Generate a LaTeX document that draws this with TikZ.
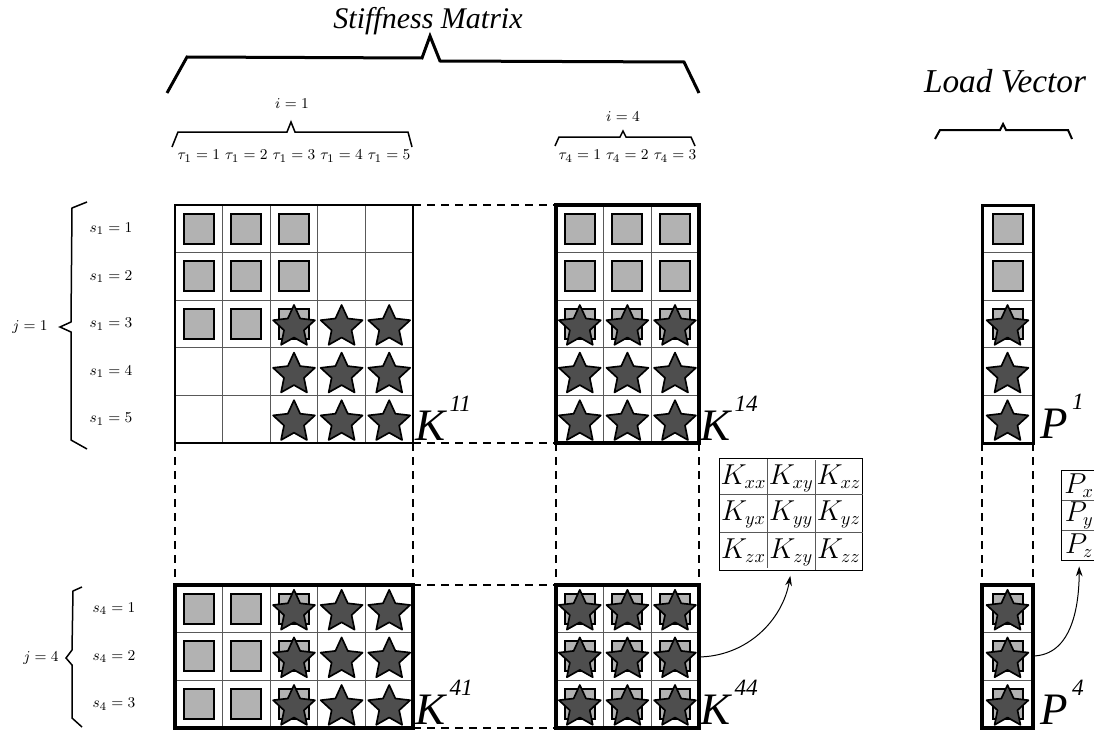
\documentclass[tikz,border=0pt]{standalone}
\usepackage{amsmath}
\usepackage{fontspec}
\usepackage{xcolor}
\usepackage{tikz}
\usetikzlibrary{arrows.meta, positioning, matrix, calc}
\newfontfamily\timesfont{Liberation Serif}
\definecolor{sqfill}{RGB}{178,178,178}
\definecolor{starfill}{RGB}{78,78,78}
\newcommand{\blocklbl}[2]{{\fontsize{27}{27}\selectfont\timesfont\itshape #1}\hspace{2.5pt}\raisebox{17pt}{\fontsize{14}{14}\selectfont\timesfont\itshape #2}}
% white block with its cell lines: x0, y0, cols, rows, cell width, cell height
\newcommand{\kblock}[6]{%
  \fill[white] (#1,#2) rectangle ({#1+#3*#5},{#2+#4*#6});
  \foreach \c in {0,...,#3} \draw[gridline] ({#1+\c*#5},#2) -- ({#1+\c*#5},{#2+#4*#6});
  \foreach \r in {0,...,#4} \draw[gridline] (#1,{#2+\r*#6}) -- ({#1+#3*#5},{#2+\r*#6});
}
% marks in the cells: x0, y0, cell width, cell height, cols, rows, pic
\newcommand{\putmarks}[7]{%
  \foreach \c in {#5}{\foreach \r in {#6}{\pic at ({#1+(\c-0.5)*#3},{#2+(\r-0.5)*#4}) {#7};}}}

\begin{document}
\begin{tikzpicture}[x=0.6pt, y=-0.6pt, >=Stealth,
  gridline/.style={black!65, line width=0.5pt},
  dashline/.style={line width=1.2pt, dash pattern=on 4.8pt off 3.6pt},
  blockrim/.style={line width=2.2pt},
  sqbox/.style={draw=black, fill=sqfill, line width=1.2pt},
  starbox/.style={draw=black, fill=starfill, line width=1pt, line join=round},
  brace/.style={line width=0.9pt},
  mlbl/.style={font=\fontsize{9.5}{11}\selectfont, inner sep=1pt},
  bigtitle/.style={font=\fontsize{18}{18}\selectfont\timesfont\itshape, inner sep=0pt, anchor=base},
  compcell/.style={minimum width=28.6pt, minimum height=21.6pt, inner sep=0pt, outer sep=0pt, font=\fontsize{16}{18}\selectfont},
  sqmark/.pic={\path[sqbox] (-15,-15) rectangle (15,15);},
  starmark/.pic={\path[starbox, shift={(0,3)}] (-90:22) -- (-54:10.5) -- (-18:22) -- (18:10.5) -- (54:22) -- (90:10.5) -- (126:22) -- (162:10.5) -- (198:22) -- (234:10.5) -- cycle;}
]
  \useasboundingbox (0,0) rectangle (1094,733);

  % titles and braces
  \node[bigtitle] (stiff) at (428,29) {Stiffness Matrix};
  \draw[line width=1.8pt] (167,93) -- (187,57) -- (422,58) -- (430,36) -- (440,61) -- (684,62) -- (699,93);
  \node[bigtitle, font=\fontsize{20}{20}\selectfont\timesfont\itshape] (load) at (1005,92) {Load Vector};
  \draw[line width=1.2pt] (935,139) -- (940,130) -- (1000,130) -- (1003,124) -- (1006,130) -- (1068,130) -- (1072,139);

  \node[mlbl] (i1) at (292,104) {$i=1$};
  \draw[brace] (172,147) -- (178,132) -- (287,132) -- (291,122) -- (295,132) -- (408,132) -- (412,147);
  \foreach \c in {1,...,5} \node[mlbl] (tauA\c) at ({175+(\c-0.5)*47.6},156) {$\tau_1=\c$};
  \node[mlbl] (i4) at (623,117) {$i=4$};
  \draw[brace] (555,146) -- (559,137) -- (620,137) -- (623,131) -- (626,137) -- (691,137) -- (695,146);
  \foreach \c in {1,2,3} \node[mlbl] (tauD\c) at ({556+(\c-0.5)*47.6},156) {$\tau_4=\c$};

  \node[mlbl] (j1) at (30,327) {$j=1$};
  \draw[brace] (87,202) -- (72,208) -- (71,322) -- (60,327) -- (71,332) -- (71,440) -- (87,449);
  \foreach \r in {1,...,5} \node[mlbl] (sA\r) at (111,{205+(\r-0.5)*47.6}) {$s_1=\r$};
  \node[mlbl] (j4) at (41,658) {$j=4$};
  \draw[brace] (82,587) -- (73,591) -- (72,650) -- (66,658) -- (72,665) -- (72,718) -- (82,727);
  \foreach \r in {1,2,3} \node[mlbl] (sD\r) at (114,{585+(\r-0.5)*47.6}) {$s_4=\r$};

  % dashed frame of the whole matrix
  \foreach \x in {175,413,556,698.8} \draw[dashline] (\x,205) -- (\x,727.8);
  \foreach \y in {205,443,585,727.8} \draw[dashline] (175,\y) -- (698.8,\y);
  \foreach \x in {982,1033} \draw[dashline] (\x,443) -- (\x,585);

  % K11
  \kblock{175}{205}{5}{5}{47.6}{47.6}
  \putmarks{175}{205}{47.6}{47.6}{1,2,3}{1,2,3}{sqmark}
  \putmarks{175}{205}{47.6}{47.6}{3,4,5}{3,4,5}{starmark}
  \draw[line width=1.2pt] (175,205) rectangle (413,443);
  % K14
  \kblock{556}{205}{3}{5}{47.6}{47.6}
  \putmarks{556}{205}{47.6}{47.6}{1,2,3}{1,2,3}{sqmark}
  \putmarks{556}{205}{47.6}{47.6}{1,2,3}{3,4,5}{starmark}
  \draw[blockrim] (556,205) rectangle (698.8,443);
  % K41
  \kblock{175}{585}{5}{3}{47.6}{47.6}
  \putmarks{175}{585}{47.6}{47.6}{1,2,3}{1,2,3}{sqmark}
  \putmarks{175}{585}{47.6}{47.6}{3,4,5}{1,2,3}{starmark}
  \draw[blockrim] (175,585) rectangle (413,727.8);
  % K44
  \kblock{556}{585}{3}{3}{47.6}{47.6}
  \putmarks{556}{585}{47.6}{47.6}{1,2,3}{1,2,3}{sqmark}
  \putmarks{556}{585}{47.6}{47.6}{1,2,3}{1,2,3}{starmark}
  \draw[blockrim] (556,585) rectangle (698.8,727.8);
  % P1 and P4
  \kblock{982}{205}{1}{5}{51}{47.6}
  \putmarks{982}{205}{51}{47.6}{1}{1,2,3}{sqmark}
  \putmarks{982}{205}{51}{47.6}{1}{3,4,5}{starmark}
  \draw[line width=1.8pt] (982,205) rectangle (1033,443);
  \kblock{982}{585}{1}{3}{51}{47.6}
  \putmarks{982}{585}{51}{47.6}{1}{1,2,3}{sqmark}
  \putmarks{982}{585}{51}{47.6}{1}{1,2,3}{starmark}
  \draw[blockrim] (982,585) rectangle (1033,727.8);

  % block names
  \node[anchor=base west, inner sep=0pt] (k11) at (415,440) {\blocklbl{K}{11}};
  \node[anchor=base west, inner sep=0pt] (k14) at (700,440) {\blocklbl{K}{14}};
  \node[anchor=base west, inner sep=0pt] (k41) at (415,724) {\blocklbl{K}{41}};
  \node[anchor=base west, inner sep=0pt] (k44) at (700,724) {\blocklbl{K}{44}};
  \node[anchor=base west, inner sep=0pt] (p1) at (1040,438) {\blocklbl{P}{1}};
  \node[anchor=base west, inner sep=0pt] (p4) at (1040,724) {\blocklbl{P}{4}};

  % components of one entry
  \matrix (kcomp) [matrix of math nodes, anchor=north west, draw=black, line width=0.8pt, inner sep=0pt,
    nodes={compcell}, column sep=0pt, row sep=0pt] at (719,458) {
    K_{xx} & K_{xy} & K_{xz} \\
    K_{yx} & K_{yy} & K_{yz} \\
    K_{zx} & K_{zy} & K_{zz} \\
  };
  \foreach \c in {1,2} \draw[gridline] (kcomp-1-\c.north east) -- (kcomp-3-\c.south east);
  \foreach \r in {1,2} \draw[gridline] (kcomp-\r-1.south west) -- (kcomp-\r-3.south east);
  \matrix (pcomp) [matrix of math nodes, anchor=north west, draw=black, line width=0.8pt, inner sep=0pt,
    nodes={compcell, minimum width=21pt, minimum height=18pt}, row sep=0pt] at (1061,470) {
    P_x \\
    P_y \\
    P_z \\
  };
  \foreach \r in {1,2} \draw[gridline] (pcomp-\r-1.south west) -- (pcomp-\r-1.south east);
  \coordinate (k44out) at (697,657);
  \coordinate (p4out) at (1032,656);
  \draw[-{Stealth[length=6pt,width=4pt]}, line width=0.6pt, shorten >=3pt] (k44out) to[out=0, in=-100] (kcomp.south);
  \draw[-{Stealth[length=6pt,width=4pt]}, line width=0.6pt, shorten >=3pt] (p4out) to[out=0, in=-90] (pcomp.south);
\end{tikzpicture}
\end{document}
